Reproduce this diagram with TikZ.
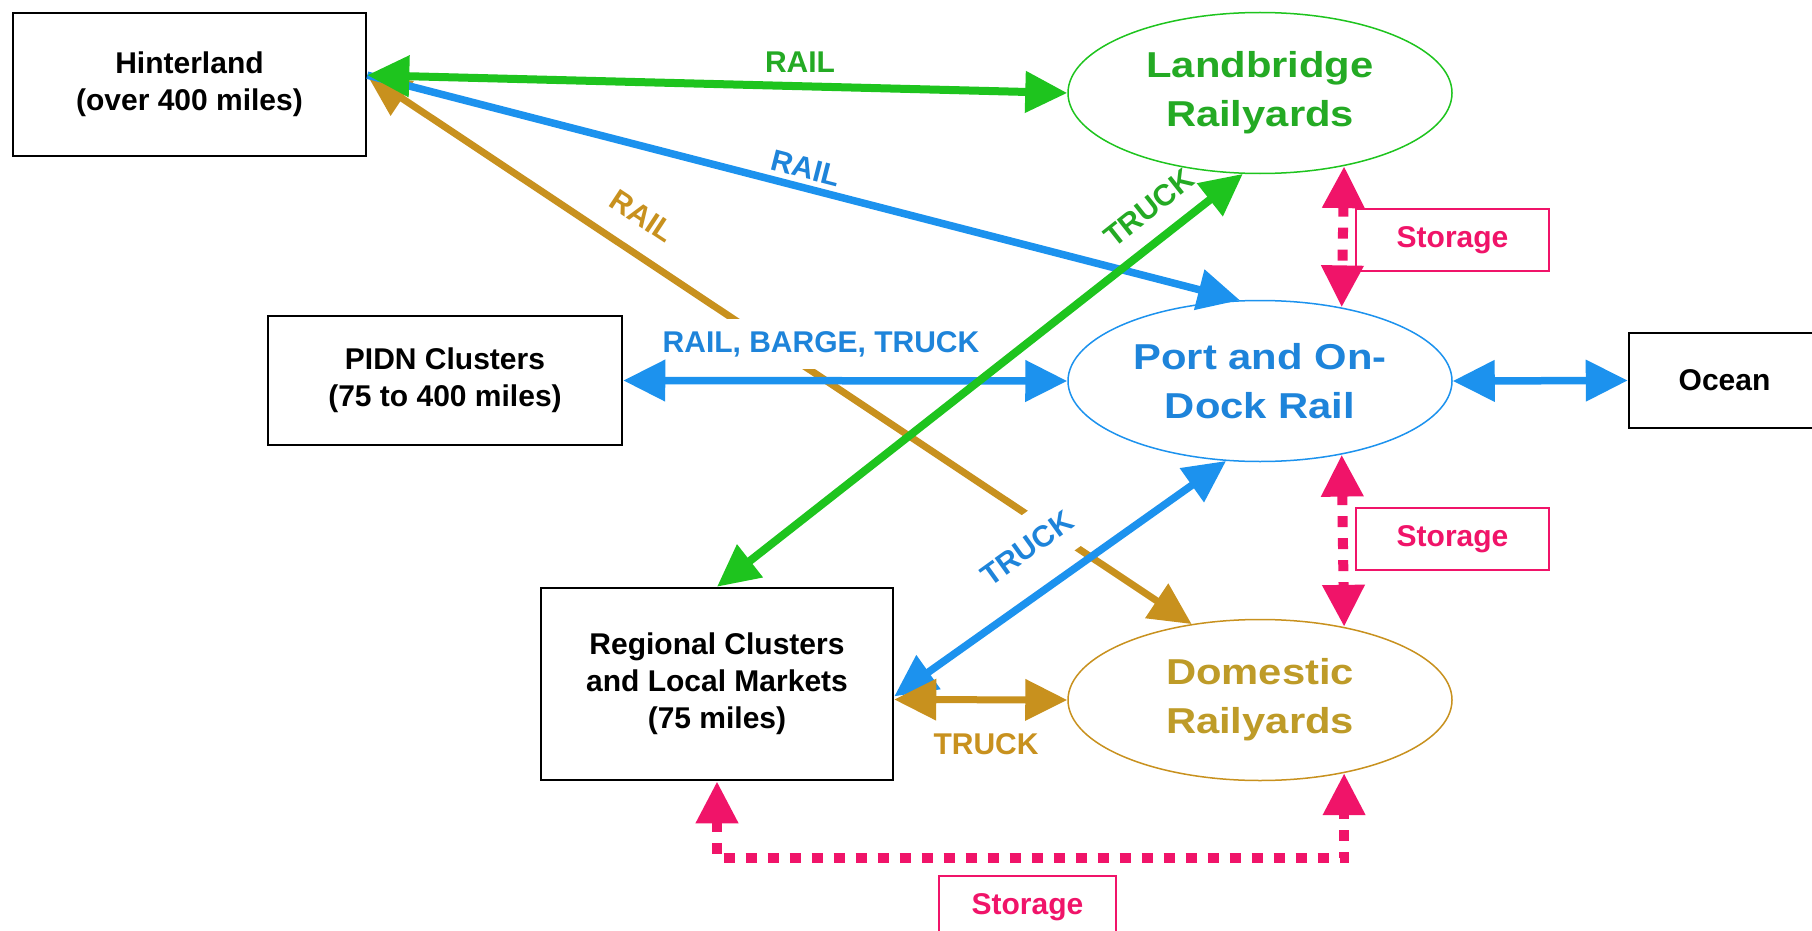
\documentclass[tikz,border=0pt]{standalone}
\usepackage{fontspec}
\setmainfont{Liberation Sans}
\newfontfamily\wideft[FakeStretch=1.16]{Liberation Sans}
\usepackage{tikz}
\usetikzlibrary{arrows.meta,shapes.geometric}

\definecolor{lgreen}{RGB}{30,196,30}
\definecolor{tgreen}{RGB}{36,170,36}
\definecolor{lblue}{RGB}{28,146,238}
\definecolor{tblue}{RGB}{30,132,218}
\definecolor{lgold}{RGB}{200,145,30}
\definecolor{tgold}{RGB}{190,155,40}
\definecolor{lpink}{RGB}{240,20,105}

\begin{document}
\begin{tikzpicture}[x=1pt,y=-1pt,
        box/.style={draw,line width=2.5pt,align=center,inner sep=0pt,font=\bfseries\fontsize{30}{37}\selectfont},
        yard/.style={ellipse,draw,line width=1.5pt,minimum width=384pt,minimum height=161pt,inner sep=0pt,align=center,font=\wideft\bfseries\fontsize{36}{49}\selectfont},
        store/.style={draw=lpink,line width=2pt,text=lpink,minimum width=193pt,minimum height=62pt,inner sep=0pt,font=\bfseries\fontsize{30}{36}\selectfont},
        lbl/.style={inner sep=1pt,font=\bfseries\fontsize{30}{36}\selectfont},
        link/.style={line width=8pt,{Triangle[length=42pt,width=40pt]}-{Triangle[length=42pt,width=40pt]}},
        storeln/.style={lpink,line width=10pt,dash pattern=on 11pt off 11pt,{Triangle[length=42pt,width=40pt]}-{Triangle[length=42pt,width=40pt]}}]
                \clip (0,0) rectangle (1812,931);
                \fill[white] (0,0) rectangle (1812,931);
                \node[box,minimum width=353pt,minimum height=143pt] (hinter) at (189.5,84.5) {Hinterland\\(over 400 miles)};
                \node[box,minimum width=354pt,minimum height=129pt] (pidn) at (445,380.5) {PIDN Clusters\\(75 to 400 miles)};
                \node[box,minimum width=352pt,minimum height=192pt] (region) at (717,684) {Regional Clusters\\and Local Markets\\(75 miles)};
                \node[box,minimum width=191pt,minimum height=95pt] (ocean) at (1724.5,380.5) {Ocean};
                \node[yard,draw=lgreen,text=tgreen] (landbr) at (1260,93) {Landbridge\\Railyards};
                \node[yard,draw=lblue,text=tblue] (port) at (1260,381) {Port and On-\\Dock Rail};
                \node[yard,draw=lgold,text=tgold] (domest) at (1260,700) {Domestic\\Railyards};
                \node[store] (stor1) at (1452.5,240) {Storage};
                \node[store] (stor2) at (1452.5,539) {Storage};
                \node[store,minimum width=177pt] (stor3) at (1027.5,907) {Storage};
                \draw[link,lgold,line width=7pt] (hinter.3) -- (domest.132);
                \node[lbl,text=tblue,fill=white,inner ysep=12pt] (rbt) at (821,344) {RAIL, BARGE, TRUCK};
                \node[lbl,text=tblue,fill=white,inner xsep=4pt,inner ysep=19pt,rotate=35.7] (truck2) at (1027,548) {TRUCK};
                \draw[link,lblue,line width=7.5pt] (pidn.east) -- (port.west);
                \draw[link,lblue,line width=7.5pt] (port.east) -- (ocean.west);
                \draw[link,lblue,line width=7.5pt] (region.-4) -- (port.247);
                \draw[lblue,line width=7.5pt,-{Triangle[length=42pt,width=40pt]}] (hinter.3) -- (port.104);
                \draw[link,lgold,line width=7pt] (region.-5) -- (domest.west);
                \draw[link,lgreen] (hinter.3) -- (landbr.west);
                \draw[link,lgreen] (region.north) -- (landbr.258);
                \draw[storeln] (landbr.319) -- (port.42);
                \draw[storeln] (port.318) -- (domest.41);
                \draw[storeln] (region.south) -- ++(0,77) -| (domest.319);
                \node[lbl,text=tgreen] (rail1) at (800,62) {RAIL};
                \node[lbl,text=tblue,rotate=-14.4] (rail2) at (806,168) {RAIL};
                \node[lbl,text=lgold,rotate=-33.4] (rail3) at (642,216) {RAIL};
                \node[lbl,text=tgreen,rotate=38.4] (truck1) at (1149,208) {TRUCK};
                \node[lbl,text=lgold] (truck3) at (986,744) {TRUCK};
            \end{tikzpicture}
\end{document}
